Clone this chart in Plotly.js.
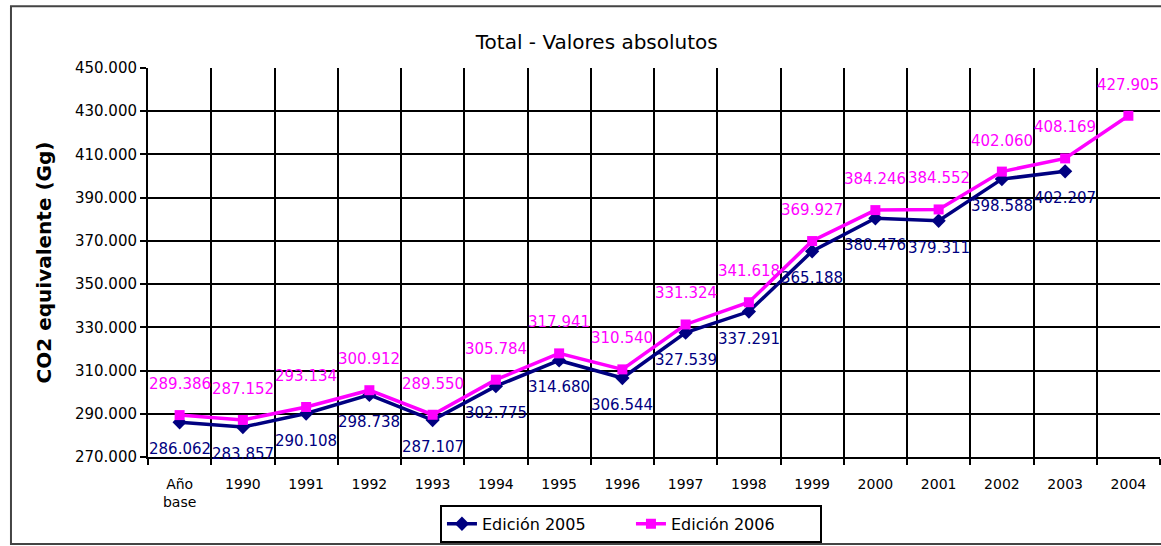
<!DOCTYPE html>
<html>
<head>
<meta charset="utf-8">
<script src="https://cdn.plot.ly/plotly-3.0.1.min.js"></script>
<style>html,body{margin:0;padding:0;background:#fff;}#chart{width:1161px;height:546px;}</style>
</head>
<body>
<div id="chart"></div>
<script>
const categories = ["Año<br>base","1990","1991","1992","1993","1994","1995","1996","1997","1998","1999","2000","2001","2002","2003","2004"];
const edicion2005 = [286062,283857,290108,298738,287107,302775,314680,306544,327539,337291,365188,380476,379311,398588,402207,null];
const edicion2006 = [289386,287152,293134,300912,289550,305784,317941,310540,331324,341618,369927,384246,384552,402060,408169,427905];
const seriesNames = ["Edición 2005","Edición 2006"];

function fmt(v){ return String(v).replace(/\B(?=(\d{3})+(?!\d))/g, "."); }

const navy = "#000080", magenta = "#FF00FF";
const FONT = "DejaVu Sans, Liberation Sans, Arial, sans-serif";

const traces = [
  {x: categories, y: edicion2005, name: seriesNames[0], mode: "lines+markers", type: "scatter",
   line: {color: navy, width: 3.5}, marker: {symbol: "diamond", size: 11, color: navy}},
  {x: categories, y: edicion2006, name: seriesNames[1], mode: "lines+markers", type: "scatter",
   line: {color: magenta, width: 3.5}, marker: {symbol: "square", size: 10, color: magenta}}
];

const annotations = [];
categories.forEach((c, i) => {
  if (edicion2005[i] != null) annotations.push({x: i, y: edicion2005[i], xref: "x", yref: "y", text: fmt(edicion2005[i]),
    showarrow: false, yshift: -27, font: {family: FONT, size: 15, color: navy}});
  if (edicion2006[i] != null) annotations.push({x: i, y: edicion2006[i], xref: "x", yref: "y", text: fmt(edicion2006[i]),
    showarrow: false, yshift: 31, font: {family: FONT, size: 15, color: magenta}});
});

const layout = {
  width: 1161, height: 546,
  margin: {l: 148, r: 1, t: 68, b: 89},
  paper_bgcolor: "#fff", plot_bgcolor: "#fff",
  separators: ",.",
  font: {family: FONT, color: "#000"},
  title: {text: "Total - Valores absolutos", x: 0.514, xref: "container", y: 0.923, yref: "container",
          xanchor: "center", yanchor: "middle", font: {family: FONT, size: 20, color: "#000"}},
  xaxis: {type: "category", range: [-0.5, 15.5], tickson: "boundaries", showgrid: true, gridcolor: "#000", gridwidth: 2,
          ticks: "outside", ticklen: 6, tickwidth: 2, tickcolor: "#000", showline: true, linecolor: "#000", linewidth: 2,
          ticklabelstandoff: 13,
          tickfont: {family: FONT, size: 14, color: "#000"}, zeroline: false, fixedrange: true},
  yaxis: {range: [270000, 450000], dtick: 20000, tick0: 270000, tickformat: ",.0f", showgrid: true, gridcolor: "#000", gridwidth: 2,
          ticks: "outside", ticklen: 6, tickwidth: 2, tickcolor: "#000", showline: true, linecolor: "#000", linewidth: 2,
          tickfont: {family: FONT, size: 15, color: "#000"}, zeroline: false,
          title: {text: "CO2 equivalente (Gg)", standoff: 18, font: {family: FONT, size: 20, color: "#000", weight: "bold"}}},
  showlegend: true,
  legend: {orientation: "h", x: 0.2885, xanchor: "left", y: -0.123, yanchor: "top", bordercolor: "#000", borderwidth: 2,
           bgcolor: "#fff", font: {family: FONT, size: 16, color: "#000"}, itemwidth: 30, tracegroupgap: 0,
           entrywidth: 144, entrywidthmode: "pixels"},
  annotations: annotations,
  shapes: [{type: "rect", xref: "paper", yref: "paper", x0: -0.1354, x1: 1.05, y0: -0.2237, y1: 1.159,
            line: {color: "#444", width: 2}, layer: "below"}]
};

Plotly.newPlot("chart", traces, layout, {displayModeBar: false, staticPlot: true});
</script>
</body>
</html>
